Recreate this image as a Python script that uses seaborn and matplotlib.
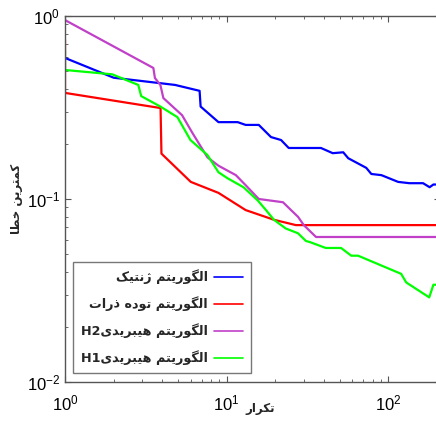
# Convergence of four algorithms (log-log), Persian labels
import pandas as pd
import matplotlib
matplotlib.use("Agg")
import matplotlib.pyplot as plt
import seaborn as sns

# ----- data -----
blue_x = [1, 2, 4.8, 6.8, 6.9, 8.9, 11.7, 13.1, 15.8, 18.8, 21.7, 24.2, 34.8, 38.3,
          45.3, 52.6, 56.5, 73, 78.5, 90.6, 115, 135, 164, 180, 190, 200]
blue_y = [0.59, 0.46, 0.42, 0.39, 0.32, 0.263, 0.263, 0.254, 0.254, 0.218, 0.21, 0.19,
          0.19, 0.19, 0.178, 0.18, 0.167, 0.148, 0.137, 0.135, 0.124, 0.122, 0.122,
          0.116, 0.12, 0.12]

red_x = [1, 1, 3.9, 3.95, 6.0, 8.9, 13.1, 19.6, 26.8, 200]
red_y = [0.74, 0.38, 0.314, 0.177, 0.124, 0.108, 0.087, 0.077, 0.072, 0.072]

mag_x = [1, 3.52, 3.6, 3.89, 4.06, 5.3, 6.15, 7.6, 8.9, 11.4, 13.1, 15.8, 22.3, 25,
         27.6, 30, 35.7, 200]
mag_y = [0.95, 0.52, 0.458, 0.42, 0.356, 0.287, 0.229, 0.169, 0.152, 0.135, 0.119,
         0.1, 0.096, 0.087, 0.08, 0.072, 0.062, 0.062]

green_x = [1, 1, 1.96, 2.84, 2.96, 3.89, 4.96, 5.97, 7.6, 8.9, 10.1, 12.7, 15.6, 17.5,
           19.6, 23.2, 27.6, 30.9, 33, 41, 51, 59, 65, 120, 129, 179, 190, 200]
green_y = [0.65, 0.507, 0.48, 0.42, 0.365, 0.32, 0.28, 0.21, 0.174, 0.14, 0.13, 0.116,
           0.098, 0.087, 0.077, 0.069, 0.065, 0.059, 0.058, 0.054, 0.054, 0.049, 0.049,
           0.039, 0.035, 0.029, 0.034, 0.034]

labels = ["الگوریتم ژنتیک", "الگوریتم توده ذرات", "الگوریتم هیبریدی", "الگوریتم هیبریدی"]
suffixes = ["", "", "H2", "H1"]
colors = ["#0000FF", "#FF0000", "#C040C8", "#00FF00"]
xlabel = "تکرار"
ylabel = "کمترین خطا"

# ----- simple Persian shaping (matplotlib has no text shaping) -----
# letter: (isolated, final, initial, medial)
FORMS = {
    "ا": ("\uFE8D", "\uFE8E", None, None),
    "د": ("\uFEA9", "\uFEAA", None, None),
    "ذ": ("\uFEAB", "\uFEAC", None, None),
    "ر": ("\uFEAD", "\uFEAE", None, None),
    "ژ": ("\uFB8A", "\uFB8B", None, None),
    "و": ("\uFEED", "\uFEEE", None, None),
    "ب": ("\uFE8F", "\uFE90", "\uFE91", "\uFE92"),
    "ت": ("\uFE95", "\uFE96", "\uFE97", "\uFE98"),
    "خ": ("\uFEA5", "\uFEA6", "\uFEA7", "\uFEA8"),
    "ط": ("\uFEC1", "\uFEC2", "\uFEC3", "\uFEC4"),
    "ل": ("\uFEDD", "\uFEDE", "\uFEDF", "\uFEE0"),
    "م": ("\uFEE1", "\uFEE2", "\uFEE3", "\uFEE4"),
    "ن": ("\uFEE5", "\uFEE6", "\uFEE7", "\uFEE8"),
    "ه": ("\uFEE9", "\uFEEA", "\uFEEB", "\uFEEC"),
    "ک": ("\uFB8E", "\uFB8F", "\uFB90", "\uFB91"),
    "گ": ("\uFB92", "\uFB93", "\uFB94", "\uFB95"),
    "ی": ("\uFBFC", "\uFBFD", "\uFBFE", "\uFBFF"),
}


def shape(text):
    out = []
    for i, ch in enumerate(text):
        if ch not in FORMS:
            out.append(ch)
            continue
        prev = text[i - 1] if i > 0 else ""
        nxt = text[i + 1] if i + 1 < len(text) else ""
        joins_prev = prev in FORMS and FORMS[prev][2] is not None
        joins_next = FORMS[ch][2] is not None and nxt in FORMS
        iso, fin, ini, med = FORMS[ch]
        if joins_prev and joins_next:
            out.append(med)
        elif joins_prev:
            out.append(fin)
        elif joins_next:
            out.append(ini)
        else:
            out.append(iso)
    return "".join(out)[::-1]


# ----- plot -----
sns.set_style("ticks")
plt.rcParams["font.family"] = ["Liberation Sans", "DejaVu Sans"]

fig = plt.figure(figsize=(4.36, 4.23), dpi=100)
ax = fig.add_axes([65 / 436, 41 / 423, 375 / 436, 366 / 423])

series = [(blue_x, blue_y), (red_x, red_y), (mag_x, mag_y), (green_x, green_y)]
for (xs, ys), lab, suf, c in zip(series, labels, suffixes, colors):
    df = pd.DataFrame({"x": xs, "y": ys})
    sns.lineplot(data=df, x="x", y="y", ax=ax, color=c, lw=1.6, sort=False,
                 estimator=None, label=suf + shape(lab))

ax.set_xscale("log")
ax.set_yscale("log")
ax.set_xlim(1, 200 * 10 ** (3 / 372 * 2.3))
ax.set_ylim(0.01, 1)

for s in ax.spines.values():
    s.set_color("#555555")
    s.set_linewidth(1.0)
ax.tick_params(which="both", direction="in", top=True, right=True, colors="#555555",
               labelcolor="black", labelsize=12)
ax.tick_params(axis="x", which="both", pad=8)
ax.tick_params(which="major", length=4)
ax.tick_params(which="minor", length=2.5)

ax.set_xlabel(shape(xlabel), family="DejaVu Sans", fontweight="bold", fontsize=8.5)
ax.xaxis.set_label_coords(0.52, -0.055)
ax.set_ylabel(shape(ylabel), family="DejaVu Sans", fontweight="bold", fontsize=8.5,
              labelpad=3)

leg = ax.legend(loc="lower left", bbox_to_anchor=(0.0215, 0.0246), borderaxespad=0,
                markerfirst=False, fancybox=False, framealpha=1, edgecolor="#777777",
                handlelength=2.3, handletextpad=0.5, labelspacing=0.95, borderpad=0.6,
                prop={"family": "DejaVu Sans", "weight": "bold", "size": 9.2})
leg.get_frame().set_linewidth(1.0)
for line in leg.get_lines():
    line.set_linewidth(1.2)

fig.savefig("out.png", dpi=100)
